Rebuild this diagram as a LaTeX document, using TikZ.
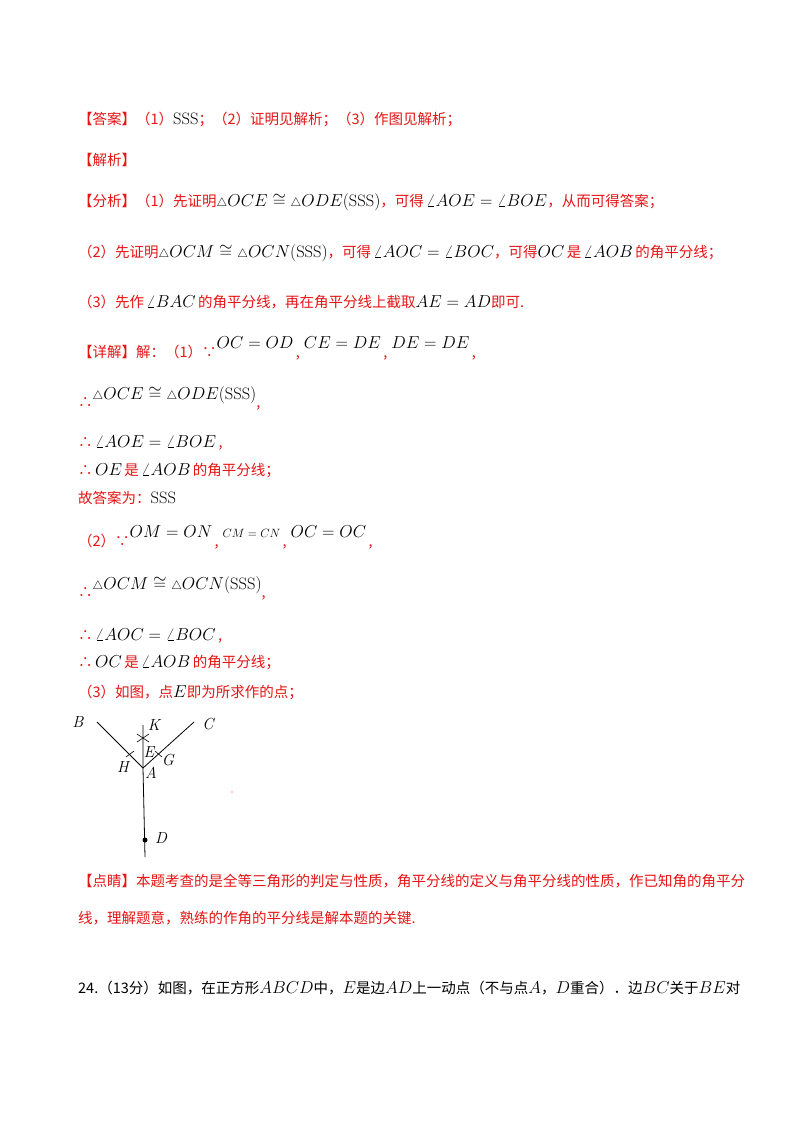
\documentclass[tikz,border=0pt]{standalone}
\usepackage{fontspec}
\newfontfamily\cjk{Noto Sans CJK SC}
\definecolor{rd}{RGB}{230,20,20}
\newcommand{\tri}{{\scriptstyle\triangle}}
\newcommand{\SSS}{\mathrm{SSS}}
\newcommand{\m}[1]{\textcolor{black}{\fontsize{16.5}{18}\selectfont$#1$}}
\newcommand{\mr}[2]{\textcolor{black}{\raisebox{#1}{\fontsize{16.5}{18}\selectfont$#2$}}}
\begin{document}
\begin{tikzpicture}[x=1pt,y=-1pt,
  tx/.style={anchor=base west,inner sep=0pt,font=\fontsize{14.5}{16}\cjk,text=rd},
  lab/.style={inner sep=0pt,font=\fontsize{16}{18}\selectfont\itshape},
  ln/.style={line width=0.8pt}]
\useasboundingbox (0,0) rectangle (800,1132);
\fill[white] (0,0) rectangle (800,1132);
\node[tx] (l1) at (78,124) {【答案】（1）\textcolor{black}{\rmfamily\fontsize{16.5}{18}\selectfont SSS}；（2）证明见解析；（3）作图见解析；};
\node[tx] (l2) at (78,165) {【解析】};
\node[tx] (l3) at (78,206) {【分析】（1）先证明\m{\tri OCE\cong\tri ODE(\SSS)}，可得\,\m{\angle AOE=\angle BOE}，从而可得答案；};
\node[tx] (l4) at (78,257) {（2）先证明\m{\tri OCM\cong\tri OCN(\SSS)}，可得\,\m{\angle AOC=\angle BOC}，可得\m{OC}\,是\,\m{\angle AOB}\,的角平分线；};
\node[tx] (l5) at (78,307) {（3）先作\,\m{\angle BAC}\,的角平分线，再在角平分线上截取\m{AE=AD}即可.};
\node[tx] (l6) at (78,357) {【详解】解：（1）∵\mr{9pt}{OC=OD}\,,\;\mr{9pt}{CE=DE}\,,\;\mr{9pt}{DE=DE}\,,};
\node[tx] (l7) at (78,407) {∴\mr{8pt}{\tri OCE\cong\tri ODE(\SSS)},};
\node[tx] (l8) at (78,447) {∴\,\m{\angle AOE=\angle BOE}\,,};
\node[tx] (l9) at (78,475) {∴\,\m{OE}\,是\,\m{\angle AOB}\,的角平分线；};
\node[tx] (l10) at (78,503) {故答案为：\textcolor{black}{\rmfamily\fontsize{16.5}{18}\selectfont SSS}};
\node[tx] (l11) at (78,546) {（2）∵\mr{9pt}{OM=ON}\,,\;\textcolor{black}{\raisebox{9pt}{\fontsize{13}{14}\selectfont$CM=CN$}}\,,\;\mr{9pt}{OC=OC}\,,};
\node[tx] (l12) at (78,597) {∴\mr{8pt}{\tri OCM\cong\tri OCN(\SSS)},};
\node[tx] (l13) at (78,640) {∴\,\m{\angle AOC=\angle BOC}\,,};
\node[tx] (l14) at (78,667) {∴\,\m{OC}\,是\,\m{\angle AOB}\,的角平分线；};
\node[tx] (l15) at (78,697) {（3）如图，点\m{E}即为所求作的点；};
% figure
\coordinate (A) at (143,768);
\coordinate (Bp) at (97,722);
\coordinate (Cp) at (194,722);
\coordinate (Kp) at (143,725);
\coordinate (Dp) at (145,857);
\draw[ln] (Bp) -- (A) -- (Cp);
\draw[ln] (Kp) -- (A) -- (Dp);
\fill (145,840) circle (2.5pt);
\draw[line width=0.6pt] (137,734) -- (149,742) (137,742) -- (149,734);
\draw[line width=0.6pt] (126,757) -- (134,751);
\draw[line width=0.6pt] (155,751) -- (162,757);
\node[lab] (B) at (78,722) {B};
\node[lab] (K) at (154,725) {K};
\node[lab] (C) at (208,724) {C};
\node[lab] (H) at (123,767) {H};
\node[lab] (E) at (149,752) {E};
\node[lab] (G) at (168,760) {G};
\node[lab] (Al) at (151,773) {A};
\node[lab] (D) at (161,838) {D};
\fill[rd] (232,792) circle (0.6pt);
\node[tx] (l16) at (78,886) {【点睛】本题考查的是全等三角形的判定与性质，角平分线的定义与角平分线的性质，作已知角的角平分};
\node[tx] (l17) at (78,923) {线，理解题意，熟练的作角的平分线是解本题的关键.};
\node[tx,text=black] (l18) at (78,993) {24.（13分）如图，在正方形\m{ABCD}中，\m{E}是边\m{AD}上一动点（不与点\m{A}，\m{D}重合）．边\m{BC}关于\m{BE}对};
\end{tikzpicture}
\end{document}
